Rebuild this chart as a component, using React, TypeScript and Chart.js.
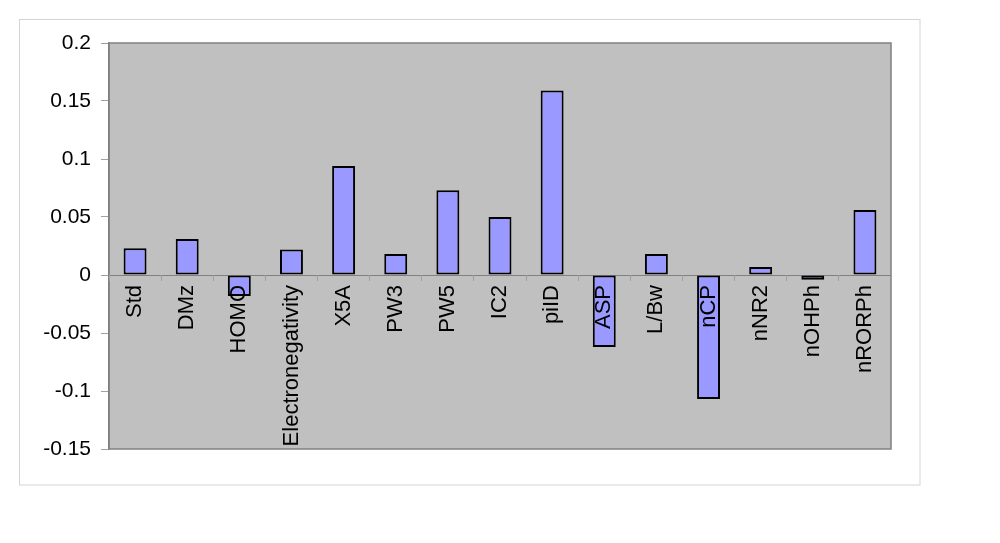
import React, { useEffect, useRef } from "react";
import { Chart, registerables } from "chart.js";

Chart.register(...registerables);

const categories = [
  "Std", "DMz", "HOMO", "Electronegativity", "X5A", "PW3", "PW5", "IC2",
  "piID", "ASP", "L/Bw", "nCP", "nNR2", "nOHPh", "nRORPh",
];
const values = [
  0.023, 0.031, -0.018, 0.022, 0.094, 0.018, 0.073, 0.05,
  0.159, -0.062, 0.018, -0.107, 0.007, -0.004, 0.056,
];
const yTickValues = [-0.15, -0.1, -0.05, 0, 0.05, 0.1, 0.15, 0.2];
const yTickLabels = ["-0.15", "-0.1", "-0.05", "0", "0.05", "0.1", "0.15", "0.2"];

const FONT = "'Liberation Sans', Arial, sans-serif";

const framePlugin = {
  id: "frame",
  beforeDraw(chart: any) {
    const { ctx, chartArea } = chart;
    ctx.save();
    ctx.fillStyle = "#ffffff";
    ctx.fillRect(0, 0, chart.width, chart.height);
    // outer border
    ctx.strokeStyle = "#d4d4d4";
    ctx.lineWidth = 1;
    ctx.strokeRect(19.5, 19.5, 900.5, 465.5);
    // plot area
    ctx.fillStyle = "#c0c0c0";
    ctx.fillRect(chartArea.left, chartArea.top, chartArea.right - chartArea.left, chartArea.bottom - chartArea.top);
    ctx.strokeStyle = "#808080";
    ctx.lineWidth = 1.5;
    ctx.strokeRect(chartArea.left, chartArea.top, chartArea.right - chartArea.left, chartArea.bottom - chartArea.top);
    ctx.restore();
  },
};

export default function App() {
  const ref = useRef<HTMLCanvasElement | null>(null);

  useEffect(() => {
    if (!ref.current) return;
    const chart = new Chart(ref.current, {
      type: "bar",
      data: {
        labels: categories,
        datasets: [
          {
            data: values,
            backgroundColor: "#9999ff",
            borderColor: "#000000",
            borderWidth: 2,
            borderSkipped: false,
            barPercentage: 0.44,
            categoryPercentage: 1,
          },
        ],
      },
      options: {
        animation: false,
        responsive: false,
        layout: { padding: { left: 0, top: 43, right: 109, bottom: 94 } },
        plugins: { legend: { display: false }, tooltip: { enabled: false } },
        scales: {
          x: {
            position: { y: 0 } as any,
            border: { display: false },
            grid: {
              offset: true,
              drawOnChartArea: false,
              drawTicks: true,
              tickLength: 6,
              tickColor: "#a0a0a0",
              z: 1,
            },
            ticks: {
              z: 1,
              minRotation: 90,
              maxRotation: 90,
              autoSkip: false,
              padding: 4,
              color: "#000000",
              font: { family: FONT, size: 22 },
            },
          },
          y: {
            min: -0.15,
            max: 0.2,
            afterFit(scale: any) {
              scale.width = 109;
            },
            afterBuildTicks(scale: any) {
              scale.ticks = yTickValues.map((v) => ({ value: v }));
            },
            border: { display: true, color: "#808080", width: 1.5 },
            grid: {
              drawOnChartArea: true,
              color: (c: any) => (c.tick && Math.abs(c.tick.value) < 1e-9 ? "#808080" : "rgba(0,0,0,0)"),
              tickColor: "#a0a0a0",
              tickLength: 8,
            },
            ticks: {
              padding: 10,
              color: "#000000",
              font: { family: FONT, size: 21 },
              callback: (v: any) => {
                const i = yTickValues.findIndex((t) => Math.abs(t - Number(v)) < 1e-9);
                return i >= 0 ? yTickLabels[i] : "";
              },
            },
          },
        },
      },
      plugins: [framePlugin],
    });
    return () => chart.destroy();
  }, []);

  return (
    <div style={{ position: "absolute", left: 0, top: 0, width: 1000, height: 543 }}>
      <canvas ref={ref} width={1000} height={543} />
    </div>
  );
}
